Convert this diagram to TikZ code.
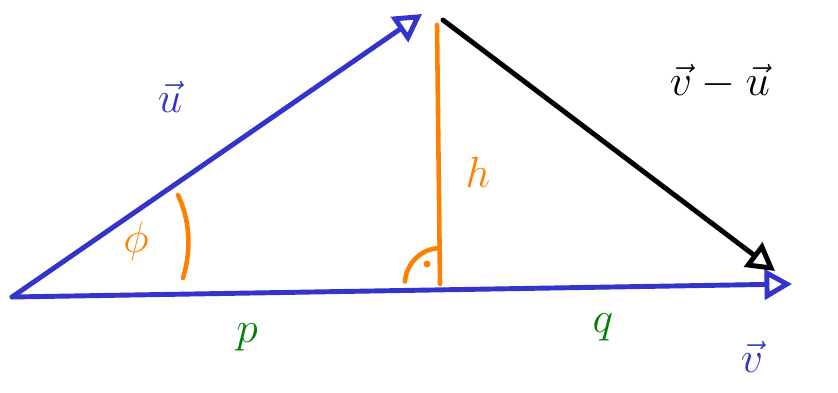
\documentclass[tikz,border=0pt]{standalone}
\usepackage{amsmath}
\usepackage{tikz}
\usetikzlibrary{arrows.meta, calc, positioning}
\definecolor{penblue}{RGB}{52,52,204}
\definecolor{penorange}{RGB}{255,128,0}
\definecolor{pengreen}{RGB}{0,128,0}
\tikzset{
  vecline/.style={line width=2.8pt, line cap=round, line join=round, -{Triangle[open, length=0.55cm, width=0.6cm, line width=2.8pt]}},
  helper/.style={line width=2.6pt, line cap=round, penorange},
  lbl/.style={font=\fontsize{32}{34}\selectfont}
}

\begin{document}
\begin{tikzpicture}
        \useasboundingbox (0,0) rectangle (16.76,7.84);
        \coordinate (O) at (0.24,1.9);
        \coordinate (A) at (8.44,7.56);
        \coordinate (V) at (15.84,2.16);
        \coordinate (H) at (8.8,2.16);
        \coordinate (T) at (8.74,7.34);
        \coordinate (B) at (8.86,7.44);
        \coordinate (W) at (15.5,2.42);
        \coordinate (a1) at (3.56,3.94);
        \coordinate (a2) at (3.66,2.28);

        \draw [vecline, penblue] (O) -- (A);
        \draw [vecline, penblue] (O) -- (V);
        \draw [vecline, black] (B) -- (W);
        \draw [helper] (T) -- (H);

        % angle and right angle
        \draw [helper] (a1) .. controls (3.84,3.34) and (3.8,2.74) .. (a2);
        \draw [helper] ($(H)+(-0.7,0.05)$) arc [start angle=176, end angle=95, radius=0.72];
        \fill [penorange] ($(H)+(-0.26,0.4)$) circle (0.07);

        \node (phi) [lbl, text=penorange, font=\fontsize{40}{42}\selectfont] at (2.72,3.0) {$\phi$};
        \node (h) [lbl, text=penorange] at (9.56,4.4) {$h$};
        \node (u) [lbl, text=penblue] at (3.4,5.9) {$\vec{u}$};
        \node (v) [lbl, text=penblue] at (15.04,0.7) {$\vec{v}$};
        \node (vu) [lbl, text=black] at (14.4,6.2) {$\vec{v}-\vec{u}$};
        \node (p) [lbl, text=pengreen] at (4.94,1.1) {$p$};
        \node (q) [lbl, text=pengreen] at (12.06,1.3) {$q$};
    \end{tikzpicture}
\end{document}
